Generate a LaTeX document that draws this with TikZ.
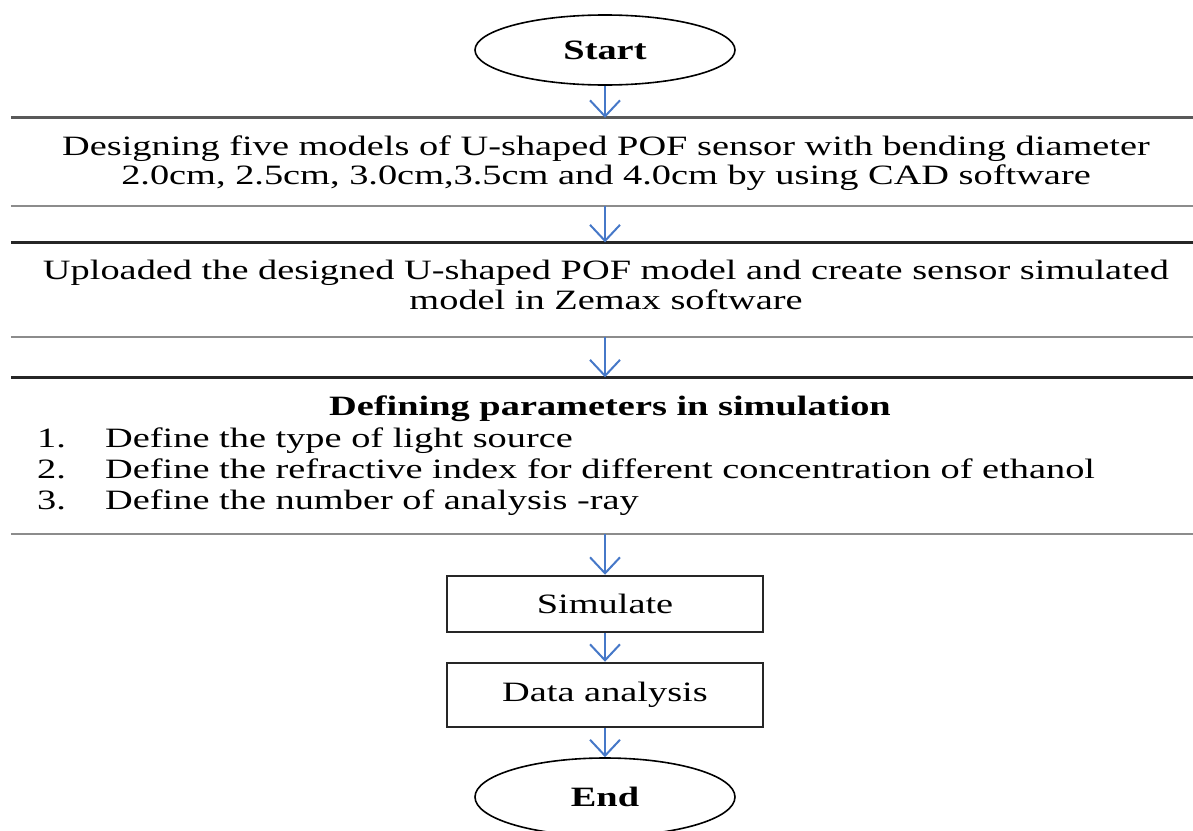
\documentclass[tikz,border=0pt]{standalone}
\usepackage{fontspec}
\setmainfont[FakeStretch=1.37]{Liberation Serif}
\usetikzlibrary{arrows.meta,shapes.geometric}
\definecolor{arrblue}{RGB}{70,120,200}
\begin{document}
\begin{tikzpicture}[x=1pt,y=-1pt,
 arr/.style={draw=arrblue, line width=2pt, -{Straight Barb[length=16pt,width=30pt,line width=2pt]}},
 term/.style={ellipse, draw, line width=1.6pt, minimum width=260pt, inner sep=0, font=\fontsize{28}{30}\selectfont\bfseries},
 frame/.style={minimum width=1182pt, inner sep=0},
 txt/.style={inner sep=0, anchor=base, font=\fontsize{28}{30}\selectfont},
 small/.style={draw=black!85, line width=2.5pt, minimum width=316pt, inner sep=0, font=\fontsize{28}{30}\selectfont},
 topline/.style={line width=3pt, draw=black!85},
 botline/.style={line width=2pt, draw=black!45}]
\useasboundingbox (0,0) rectangle (1193,830);
\node[term, minimum height=70pt] (start) at (605,50) {Start};

\node[frame, minimum height=88pt] (b1) at (602,162) {};
\draw[topline, draw=black!65] (b1.north west) -- (b1.north east);
\draw[botline] (b1.south west) -- (b1.south east);
\node[txt] (t11) at (606,155) {Designing five models of U-shaped POF sensor with bending diameter};
\node[txt] (t12) at (606,184) {2.0cm, 2.5cm, 3.0cm,3.5cm and 4.0cm by using CAD software};

\node[frame, minimum height=94pt] (b2) at (602,289.5) {};
\draw[topline] (b2.north west) -- (b2.north east);
\draw[botline] (b2.south west) -- (b2.south east);
\node[txt] (t21) at (606,279) {Uploaded the designed U-shaped POF model and create sensor simulated};
\node[txt] (t22) at (606,309) {model in Zemax software};

\node[frame, minimum height=156pt] (b3) at (602,455.5) {};
\draw[topline] (b3.north west) -- (b3.north east);
\draw[botline] (b3.south west) -- (b3.south east);
\node[txt, font=\fontsize{28}{30}\selectfont\bfseries] (t0) at (610,415) {Defining parameters in simulation};
\node[txt, anchor=base west] (n1) at (37,447) {1.};
\node[txt, anchor=base west] (i1) at (105,447) {Define the type of light source};
\node[txt, anchor=base west] (n2) at (37,478) {2.};
\node[txt, anchor=base west] (i2) at (105,478) {Define the refractive index for different concentration of ethanol};
\node[txt, anchor=base west] (n3) at (37,509) {3.};
\node[txt, anchor=base west] (i3) at (105,509) {Define the number of analysis -ray};

\node[small, minimum height=56pt] (sim) at (605,604) {Simulate};
\node[small, minimum height=64pt] (da) at (605,695) {Data analysis};
\node[term, minimum height=78pt] (end) at (605,797) {End};

\draw[arr] (start.south) -- (start.south |- b1.north);
\draw[arr] (b1.south -| start.south) -- (start.south |- b2.north);
\draw[arr] (b2.south -| start.south) -- (start.south |- b3.north);
\draw[arr] (b3.south -| sim.north) -- (sim.north);
\draw[arr] (sim.south) -- (da.north);
\draw[arr] (da.south) -- (end.north);
\end{tikzpicture}
\end{document}
